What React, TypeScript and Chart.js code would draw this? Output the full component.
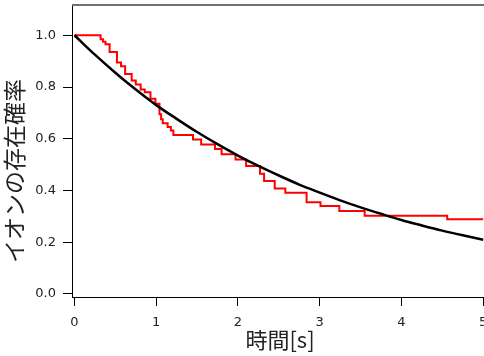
import React, { useEffect, useRef } from "react";
import { Chart, registerables } from "chart.js";

Chart.register(...registerables);

// Model curve (black)
const modelTimes = [0, 0.25, 0.5, 0.75, 1, 1.25, 1.5, 1.75, 2, 2.25, 2.5, 2.75, 3, 3.25, 3.5, 3.75, 4, 4.25, 4.5, 4.75, 5];
const modelValues = [1.0, 0.925, 0.855, 0.79, 0.73, 0.677, 0.626, 0.579, 0.535, 0.495, 0.458, 0.423, 0.392, 0.362, 0.335, 0.31, 0.286, 0.265, 0.245, 0.227, 0.21];

// Measured survival (red step line): time where each level begins, and the level
const stepTimes = [0, 0.32, 0.35, 0.38, 0.43, 0.52, 0.57, 0.62, 0.7, 0.75, 0.81, 0.86, 0.93, 0.99, 1.04, 1.06, 1.08, 1.14, 1.18, 1.21, 1.45, 1.55, 1.72, 1.8, 1.97, 2.1, 2.27, 2.32, 2.45, 2.58, 2.84, 3.01, 3.24, 3.55, 4.56, 5.0];
const stepValues = [1.0, 0.985, 0.975, 0.965, 0.935, 0.895, 0.88, 0.85, 0.825, 0.81, 0.79, 0.78, 0.755, 0.735, 0.695, 0.675, 0.66, 0.645, 0.632, 0.615, 0.597, 0.578, 0.56, 0.54, 0.52, 0.495, 0.465, 0.437, 0.408, 0.391, 0.355, 0.34, 0.321, 0.302, 0.289, 0.289];

const xTicks = [0, 1, 2, 3, 4, 5];
const yTicks = [0, 0.2, 0.4, 0.6, 0.8, 1.0];

const xTitle = "時間[s]";
const yTitle = "イオンの存在確率";

const W = 484;
const H = 356;

export default function App() {
  const ref = useRef<HTMLCanvasElement | null>(null);

  useEffect(() => {
    if (!ref.current) return;
    const tickFont = { family: "DejaVu Sans", size: 13 };
    const titlePlugin = {
      id: "titlesAndFrame",
      afterDraw(chart: any) {
        const { ctx, chartArea } = chart;
        ctx.save();
        // top frame line
        ctx.strokeStyle = "#707070";
        ctx.lineWidth = 2;
        ctx.beginPath();
        ctx.moveTo(chartArea.left, chartArea.top);
        ctx.lineTo(chartArea.right, chartArea.top);
        ctx.stroke();
        // titles
        ctx.fillStyle = "#222";
        ctx.font = '22px "Noto Sans CJK JP"';
        ctx.textAlign = "center";
        ctx.textBaseline = "middle";
        ctx.fillText(xTitle, 280, 340);
        ctx.font = '23px "Noto Sans CJK JP"';
        ctx.translate(14, 171);
        ctx.rotate(-Math.PI / 2);
        ctx.fillText(yTitle, 0, 0);
        ctx.restore();
      },
    };

    const chart = new Chart(ref.current, {
      type: "line",
      data: {
        datasets: [
          {
            data: modelTimes.map((t, i) => ({ x: t, y: modelValues[i] })),
            borderColor: "#000000",
            borderWidth: 2.5,
            pointRadius: 0,
            cubicInterpolationMode: "monotone",
            fill: false,
          },
          {
            data: stepTimes.map((t, i) => ({ x: t, y: stepValues[i] })),
            borderColor: "#ff0000",
            borderWidth: 2,
            pointRadius: 0,
            stepped: "before",
            fill: false,
          },
        ],
      },
      options: {
        responsive: false,
        animation: false,
        devicePixelRatio: 1,
        layout: { padding: { top: 5, right: 0, left: 0, bottom: 0 } },
        plugins: { legend: { display: false }, tooltip: { enabled: false } },
        scales: {
          x: {
            type: "linear",
            min: -0.03,
            max: 5.01,
            afterBuildTicks: (s: any) => {
              s.ticks = xTicks.map((v) => ({ value: v }));
            },
            afterFit: (s: any) => {
              s.height = 59;
              s.paddingLeft = 0;
              s.paddingRight = 0;
            },
            grid: { drawOnChartArea: false, drawTicks: true, tickLength: 9, color: "#000" },
            border: { display: true, color: "#000", width: 1 },
            ticks: {
              font: tickFont,
              color: "#222",
              padding: 9,
              maxRotation: 0,
              autoSkip: false,
              callback: (v: any) => String(v),
            },
          },
          y: {
            type: "linear",
            min: -0.0116,
            max: 1.117,
            afterBuildTicks: (s: any) => {
              s.ticks = yTicks.map((v) => ({ value: v }));
            },
            afterFit: (s: any) => {
              s.width = 72;
              s.paddingTop = 0;
              s.paddingBottom = 0;
            },
            grid: { drawOnChartArea: false, drawTicks: true, tickLength: 9, color: "#000" },
            border: { display: true, color: "#000", width: 1 },
            ticks: {
              font: tickFont,
              color: "#222",
              padding: 7,
              autoSkip: false,
              callback: (v: any) => Number(v).toFixed(1),
            },
          },
        },
      },
      plugins: [titlePlugin],
    } as any);
    return () => chart.destroy();
  }, []);

  return (
    <div style={{ position: "fixed", left: 0, top: 0, width: W, height: H, background: "#fff" }}>
      <canvas ref={ref} width={W} height={H} style={{ width: W, height: H, display: "block" }} />
    </div>
  );
}
